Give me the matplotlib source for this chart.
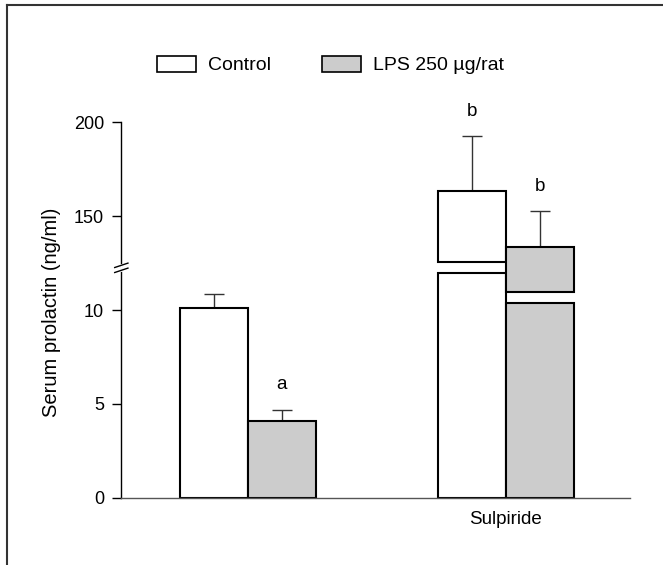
import matplotlib
matplotlib.use("Agg")
import matplotlib.pyplot as plt
from matplotlib.lines import Line2D
from matplotlib.patches import Patch

plt.rcParams["font.family"] = ["Liberation Sans", "DejaVu Sans"]
plt.rcParams["font.size"] = 13

# data (ng/ml)
groups = ["", "Sulpiride"]
control_mean = [10.1, 163.6]
control_sem = [0.75, 29.0]
lps_mean = [4.1, 133.7]
lps_sem = [0.6, 19.0]
# where each drawn bar is cut (lower part top, upper part bottom); None = not broken
control_cut = [None, (12.0, 125.7)]
lps_cut = [None, (10.4, 109.6)]
letters_control = ["", "b"]
letters_lps = ["a", "b"]

lower_ticks = [0, 5, 10]
upper_ticks = [150, 200]
scale = 10          # upper scale is lower scale x10
y_top = 21.0
break_at = 12.25    # lower-scale position of the axis break

fig = plt.figure(figsize=(6.63, 5.65), dpi=100)
ax = fig.add_axes([0.183, 0.119, 0.767, 0.6977])
ax2 = ax.twinx()
ax.set_ylim(0, y_top)
ax2.set_ylim(0, y_top * scale)
ax.set_xlim(-0.4895, 1.48)

width = 0.263
x = list(range(len(groups)))
bar_kw = dict(edgecolor="black", linewidth=1.5, zorder=2)
err_kw = dict(fmt="none", ecolor="#333333", elinewidth=1.0, capsize=7, capthick=1.0, zorder=1)

for i in x:
    for off, mean, sem, cut, color, letter in [
        (-width / 2, control_mean[i], control_sem[i], control_cut[i], "white", letters_control[i]),
        (width / 2, lps_mean[i], lps_sem[i], lps_cut[i], "#cccccc", letters_lps[i]),
    ]:
        xpos = i + off
        if cut is None:
            ax.bar(xpos, mean, width, color=color, **bar_kw)
            ax.errorbar(xpos, mean, yerr=[[0], [sem]], **err_kw)
            target, top = ax, mean + sem
        else:
            ax.bar(xpos, cut[0], width, color=color, **bar_kw)
            ax2.bar(xpos, mean - cut[1], width, bottom=cut[1], color=color, **bar_kw)
            ax2.errorbar(xpos, mean, yerr=[[0], [sem]], **err_kw)
            target, top = ax2, mean + sem
        if letter:
            target.annotate(letter, (xpos, top), xytext=(0, 14.5), textcoords="offset points",
                            ha="center", va="baseline", fontsize=13.5)

# axes styling
for s in ["top", "right"]:
    ax.spines[s].set_visible(False)
for s in ax2.spines.values():
    s.set_visible(False)
ax.spines["left"].set_bounds(0, 20)
ax.spines["left"].set_linewidth(1.0)
ax.spines["bottom"].set_color("#555555")
ax.spines["bottom"].set_linewidth(1.0)

ax.set_yticks(lower_ticks)
ax2.set_yticks(upper_ticks)
ax2.yaxis.tick_left()
for a in (ax, ax2):
    a.tick_params(axis="y", length=6.5, width=1.0, pad=6, labelsize=13, color="black")
ax.set_xticks(x)
ax.set_xticklabels(groups)
ax.tick_params(axis="x", length=0, pad=9.5, labelsize=13.5)

# axis break marks
yt = ax.get_yaxis_transform()
d = 0.0533  # one pixel in lower units
ax.plot([0, 0], [break_at - 2.5 * d, break_at + 2.5 * d], color="white", lw=2, transform=yt,
        clip_on=False, zorder=5)
for dy in (-2.5, 2.5):
    ax.plot([-0.013, 0.013], [break_at + (dy - 2.2) * d, break_at + (dy + 2.2) * d],
            color="black", lw=1.0, transform=yt, clip_on=False, zorder=6)

fig.text(52 / 663, 0.447, "Serum prolactin (ng/ml)", rotation=90, ha="center", va="center",
         fontsize=14.5)

handles = [Patch(facecolor="white", edgecolor="black", linewidth=1.2),
           Patch(facecolor="#cccccc", edgecolor="black", linewidth=1.2)]
fig.legend(handles, ["Control", "LPS 250 \u00b5g/rat"], loc="center",
           bbox_to_anchor=(0.499, 0.885), ncol=2, frameon=False, fontsize=14,
           handlelength=2.0, handleheight=0.88, handletextpad=0.62, columnspacing=2.63)

# outer frame (left and top edges visible)
fig.add_artist(Line2D([7 / 663, 7 / 663], [0, 1 - 5 / 565], color="#333333", lw=1.5))
fig.add_artist(Line2D([7 / 663, 1], [1 - 5 / 565, 1 - 5 / 565], color="#333333", lw=1.5))

fig.savefig("out.png", dpi=100)
